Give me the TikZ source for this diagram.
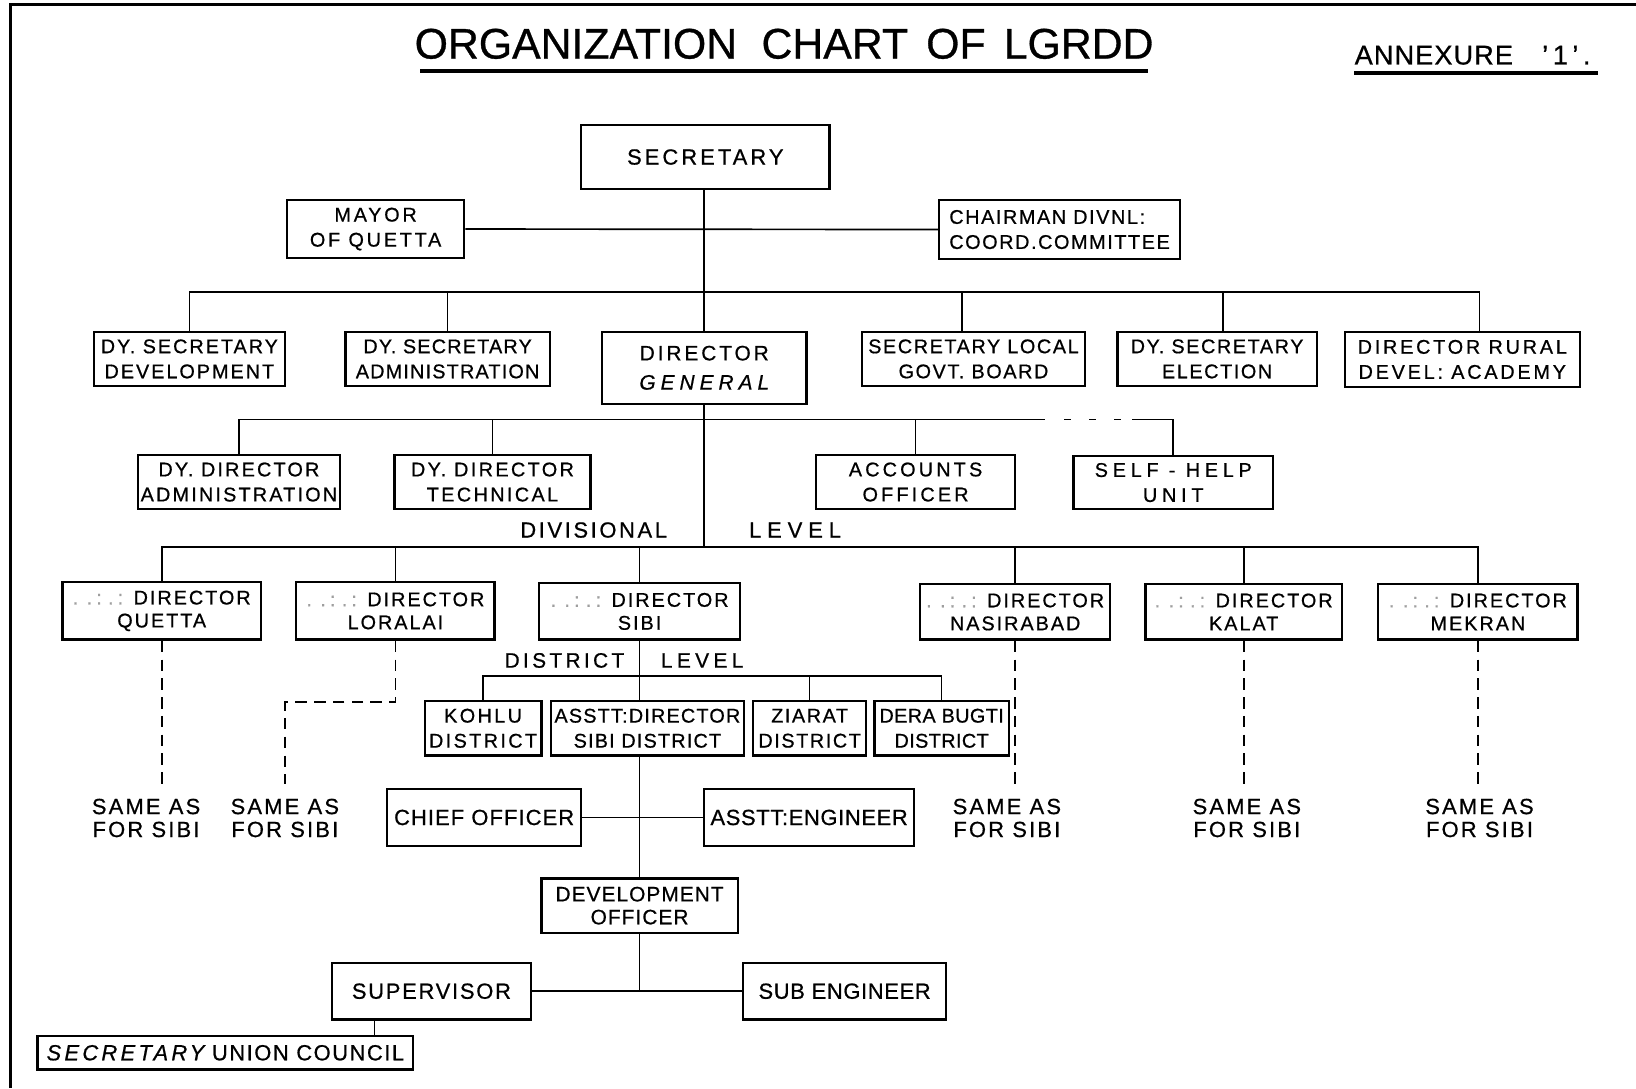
\documentclass[tikz,border=0pt]{standalone}
\usepackage{fontspec}
\setmainfont{Liberation Sans}[FakeBold=0.7]
\usetikzlibrary{calc}
\newcommand{\fz}[2]{\fontsize{#1}{#2}\selectfont}
\newcommand{\LS}[1]{\addfontfeatures{LetterSpace=#1}}
\definecolor{faint}{gray}{0.62}
\newcommand{\fade}{{\color{faint}.\hspace{4pt}.\hspace{2pt}:\hspace{3pt}.\hspace{2pt}:}\hspace{5pt}}
\tikzset{
  x=0.5pt, y=-0.5pt,
  box/.style={draw, line width=1.1pt, inner sep=0pt, align=center, font=\fz{9.5}{12}\LS{8}},
  wh/.style 2 args={minimum width=#1*0.5pt, minimum height=#2*0.5pt},
  conn/.style={line width=0.8pt},
  dconn/.style={line width=0.9pt, dash pattern=on 5.5pt off 3.5pt, shorten >=7pt},
  lbl/.style={inner sep=0pt, align=center, font=\fz{10.5}{11}\LS{10}},
}
\begin{document}
\begin{tikzpicture}
\useasboundingbox (0,0) rectangle (1568,1043);
\fill[white] (0,0) rectangle (1568,1043);
% frame
\draw[line width=1.5pt] (10,1043) -- (10,4) -- (1568,4);
% title
\node[inner sep=0pt, font=\fz{20.5}{24}] (title) at (751.5,42) {ORGANIZATION\hspace{6pt} CHART\hspace{3pt} OF\hspace{3pt} LGRDD};
\draw[line width=2pt] (403,68) -- (1100,68);
\node[inner sep=0pt, anchor=west, font=\fz{13}{14}\LS{4}] (annex) at (1298,53) {ANNEXURE\hspace{14pt}'\,1\,'\,.};
\draw[line width=1.5pt] (1298,70) -- (1532,70);

% level 0/1
\node[box, wh={238}{61}, font=\fz{10.5}{12}\LS{14}] (sec) at (676,150.5) {SECRETARY};
\node[box, wh={170}{55}, font=\fz{9.5}{12}\LS{14}] (mayor) at (360,219.5) {MAYOR\\OF QUETTA};
\node[box, wh={231}{56}, align=left, font=\fz{9.5}{12}\LS{8}] (chair) at (1015.5,220) {CHAIRMAN DIVNL:\\COORD.COMMITTEE};

% level 2
\node[box, wh={183}{52}, font=\fz{9.5}{12}\LS{10}] (dsd) at (181.5,344) {DY. SECRETARY\\DEVELOPMENT};
\node[box, wh={196}{52}, font=\fz{9.5}{12}\LS{6}] (dsa) at (429,344) {DY. SECRETARY\\ADMINISTRATION};
\node[box, wh={196}{69}, font=\fz{10}{14}\LS{14}] (dg) at (675,352.5) {DIRECTOR\\{\itshape\LS{24}GENERAL}};
\node[box, wh={214}{52}] (slg) at (933,344) {SECRETARY LOCAL\\GOVT.\ BOARD};
\node[box, wh={191}{52}] (dse) at (1166.5,344) {DY. SECRETARY\\ELECTION};
\node[box, wh={225}{53}, font=\fz{9.5}{12}\LS{14}] (drd) at (1401.5,344.5) {DIRECTOR RURAL\\DEVEL: ACADEMY};

% level 3
\node[box, wh={194}{52}, font=\fz{9.5}{12}\LS{11}] (dda) at (229,462) {DY. DIRECTOR\\ADMINISTRATION};
\node[box, wh={188}{52}, font=\fz{9.5}{12}\LS{12}] (ddt) at (472,462) {DY. DIRECTOR\\TECHNICAL};
\node[box, wh={191}{52}, font=\fz{9.5}{12}\LS{16}] (acc) at (877.5,462) {ACCOUNTS\\OFFICER};
\node[box, wh={191}{51}, font=\fz{9.5}{12}\LS{24}] (shu) at (1124.5,462.5) {SELF - HELP\\UNIT};

% divisional level
\node[box, wh={190}{55}, font=\fz{9.5}{11}\LS{10}] (dq) at (155,585.5) {\fade DIRECTOR\\QUETTA};
\node[box, wh={190}{55}, font=\fz{9.5}{11}\LS{10}] (dl) at (379,585.5) {\fade DIRECTOR\\LORALAI};
\node[box, wh={193}{54}, font=\fz{9.5}{11}\LS{10}] (ds) at (613,586) {\fade DIRECTOR\\SIBI};
\node[box, wh={182}{53}, font=\fz{9.5}{11}\LS{10}] (dn) at (973,586.5) {\fade DIRECTOR\\NASIRABAD};
\node[box, wh={188}{53}, font=\fz{9.5}{11}\LS{10}] (dk) at (1192,586.5) {\fade DIRECTOR\\KALAT};
\node[box, wh={191}{53}, font=\fz{9.5}{11}\LS{10}] (dm) at (1416.5,586.5) {\fade DIRECTOR\\MEKRAN};

% district level
\node[box, wh={112}{52}, font=\fz{9.5}{12}\LS{12}] (kohlu) at (463,698) {KOHLU\\DISTRICT};
\node[box, wh={185}{52}, font=\fz{9.5}{12}\LS{6}] (asd) at (620.5,698) {ASSTT:DIRECTOR\\SIBI DISTRICT};
\node[box, wh={108}{52}, font=\fz{9.5}{12}\LS{8}] (ziarat) at (776,698) {ZIARAT\\DISTRICT};
\node[box, wh={129}{52}, font=\fz{9.5}{12}\LS{2}] (dera) at (902.5,698) {DERA BUGTI\\DISTRICT};

\node[box, wh={186}{55}, font=\fz{10.5}{12}\LS{5}] (chief) at (464,783.5) {CHIEF OFFICER};
\node[box, wh={201}{55}, font=\fz{10.5}{12}\LS{3}] (ae) at (775.5,783.5) {ASSTT:ENGINEER};
\node[box, wh={188}{52}, font=\fz{10}{11}\LS{5}] (dev) at (613,868) {DEVELOPMENT\\OFFICER};
\node[box, wh={191}{54}, font=\fz{10.5}{12}\LS{8}] (sup) at (413.5,950) {SUPERVISOR};
\node[box, wh={195}{54}, font=\fz{10.5}{12}\LS{3}] (sube) at (809.5,950) {SUB ENGINEER};
\node[box, wh={360}{32}, font=\fz{10.5}{12}\LS{7}] (suc) at (216,1009) {{\itshape\LS{15}SECRETARY} UNION COUNCIL};

% same-as labels
\node[lbl] (sa1) at (140,784) {SAME AS\\FOR SIBI};
\node[lbl] (sa2) at (273,784) {SAME AS\\FOR SIBI};
\node[lbl] (sa3) at (965,784) {SAME AS\\FOR SIBI};
\node[lbl] (sa4) at (1195,784) {SAME AS\\FOR SIBI};
\node[lbl] (sa5) at (1418,784) {SAME AS\\FOR SIBI};

% level labels
\node[inner sep=0pt, font=\fz{10.5}{12}\LS{12}] (divl) at (569,508) {DIVISIONAL};
\node[inner sep=0pt, font=\fz{10.5}{12}\LS{27}] (divr) at (762,508) {LEVEL};
\node[inner sep=0pt, font=\fz{10}{12}\LS{16}] (disl) at (541,633) {DISTRICT};
\node[inner sep=0pt, font=\fz{10}{12}\LS{21}] (disr) at (673,633) {LEVEL};

% bus coordinates
\coordinate (b1) at (0,280);
\coordinate (b2) at (0,402);
\coordinate (b3) at (0,524);
\coordinate (b4) at (0,648);
\coordinate (g1) at (996,402);
\coordinate (g2) at (1085,402);

% connectors
\draw[conn] (sec.south -| dg.north) -- (dg.north);
\draw[conn] (mayor.east) -- (chair.west);
\draw[conn] (dsd.north) -- (dsd.north |- b1) -- ([xshift=8.25pt]drd.north |- b1) -- ([xshift=8.25pt]drd.north);
\draw[conn] (dsa.north) -- (dsa.north |- b1);
\draw[conn] ([xshift=-5.5pt]slg.north) -- ([xshift=-5.5pt]slg.north |- b1);
\draw[conn] ([xshift=2.75pt]dse.north) -- ([xshift=2.75pt]dse.north |- b1);

\draw[conn] (dda.north) -- (dda.north |- b2) -- (g1);
\draw[conn, dash pattern=on 3pt off 9pt] (g1) -- (g2);
\draw[conn] (g2) -- (shu.north |- b2) -- (shu.north);
\draw[conn] (ddt.north) -- (ddt.north |- b2);
\draw[conn] (acc.north) -- (acc.north |- b2);

\draw[conn] (dg.south) -- (dg.south |- b3);
\draw[conn] (dq.north) -- (dq.north |- b3) -- (dm.north |- b3) -- (dm.north);
\draw[conn] (dl.north) -- (dl.north |- b3);
\draw[conn] (ds.north) -- (ds.north |- b3);
\draw[conn] (dn.north) -- (dn.north |- b3);
\draw[conn] (dk.north) -- (dk.north |- b3);

\draw[conn] (ds.south) -- (ds.south |- asd.north);
\draw[conn] (kohlu.north) -- (kohlu.north |- b4) -- (dera.north |- b4) -- (dera.north);
\draw[conn] (ziarat.north) -- (ziarat.north |- b4);
\draw[conn] (asd.south -| dev.north) -- (dev.north);
\draw[conn] (chief.east) -- (ae.west);
\draw[conn] (dev.south) -- (dev.south |- sup.east);
\draw[conn] (sup.east) -- (sube.west);
\draw[conn] ([xshift=-27.25pt]sup.south) -- ([xshift=-27.25pt]sup.south |- suc.north);

% dashed
\draw[dconn] (dq.south) -- (dq.south |- sa1.north);
\draw[dconn] (dl.south) -- ++(0,59) -| (sa2.north);
\draw[dconn] (dn.south) -- (dn.south |- sa3.north);
\draw[dconn] (dk.south) -- (dk.south |- sa4.north);
\draw[dconn] (dm.south) -- (dm.south |- sa5.north);
\end{tikzpicture}
\end{document}
